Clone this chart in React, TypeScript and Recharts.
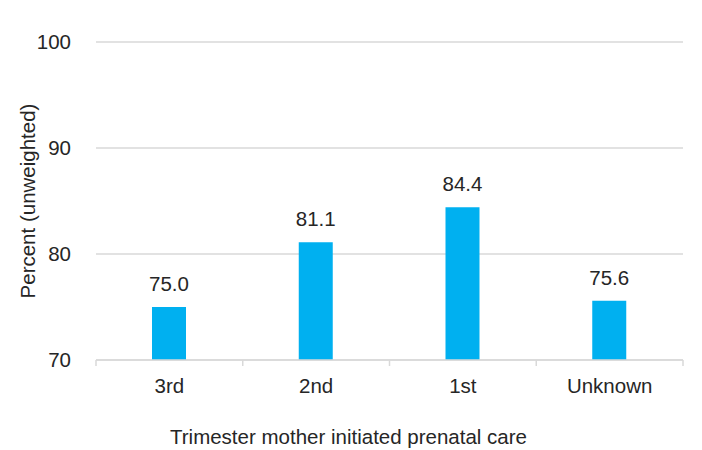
import { BarChart, Bar, XAxis, YAxis, CartesianGrid, LabelList } from "recharts";

const trimesters = ["3rd", "2nd", "1st", "Unknown"];
const percents = [75.0, 81.1, 84.4, 75.6];
const yTicks = [70, 80, 90, 100];

const chartData = trimesters.map((t, i) => ({ trimester: t, percent: percents[i] }));

const font = "'Liberation Sans', Arial, sans-serif";
const textColor = "#262626";
const gridColor = "#D9D9D9";
const fs = 20.5;

// category label plus tick marks on the band edges (Excel style)
function CategoryTick(props: any) {
    const { x, y, payload, index, visibleTicksCount } = props;
    const half = payload.offset || 0;
    const axisY = y - 18;
    const last = index === visibleTicksCount - 1;
    return (
        <g>
            <line x1={x - half} x2={x - half} y1={axisY} y2={axisY + 6} stroke={gridColor} strokeWidth={1.5} />
            {last && <line x1={x + half} x2={x + half} y1={axisY} y2={axisY + 6} stroke={gridColor} strokeWidth={1.5} />}
            <text x={x} y={y} dy="0.71em" textAnchor="middle" fill={textColor} fontSize={fs} fontFamily={font}>
                {payload.value}
            </text>
        </g>
    );
}

export default function App() {
    return (
        <div style={{ position: "absolute", top: 0, left: 0, width: 702, height: 450, background: "#fff" }}>
            <BarChart
                width={702}
                height={450}
                data={chartData}
                margin={{ top: 42, right: 19, left: 0, bottom: 0 }}
                style={{ fontFamily: font }}
            >
                <CartesianGrid vertical={false} stroke={gridColor} strokeWidth={1.5} />
                <XAxis
                    dataKey="trimester"
                    height={90}
                    axisLine={{ stroke: gridColor, strokeWidth: 1.5 }}
                    tickLine={false}
                    tickSize={6}
                    tickMargin={12}
                    tick={<CategoryTick />}
                    label={{
                        value: "Trimester mother initiated prenatal care",
                        position: "insideBottom",
                        offset: 6,
                        dx: -41,
                        fill: textColor,
                        fontSize: fs,
                        fontFamily: font,
                    }}
                />
                <YAxis
                    width={96}
                    domain={[70, 100]}
                    ticks={yTicks}
                    axisLine={false}
                    tickLine={false}
                    tickMargin={19}
                    tick={{ fill: textColor, fontSize: fs, fontFamily: font }}
                    label={{
                        value: "Percent (unweighted)",
                        angle: -90,
                        position: "center",
                        dx: -20,
                        fill: textColor,
                        fontSize: fs,
                        fontFamily: font,
                    }}
                />
                <Bar dataKey="percent" fill="#00B0F0" barSize={34} isAnimationActive={false}>
                    <LabelList
                        dataKey="percent"
                        position="top"
                        offset={16}
                        formatter={(v: number) => v.toFixed(1)}
                        fill={textColor}
                        fontSize={fs}
                        fontFamily={font}
                    />
                </Bar>
            </BarChart>
        </div>
    );
}
